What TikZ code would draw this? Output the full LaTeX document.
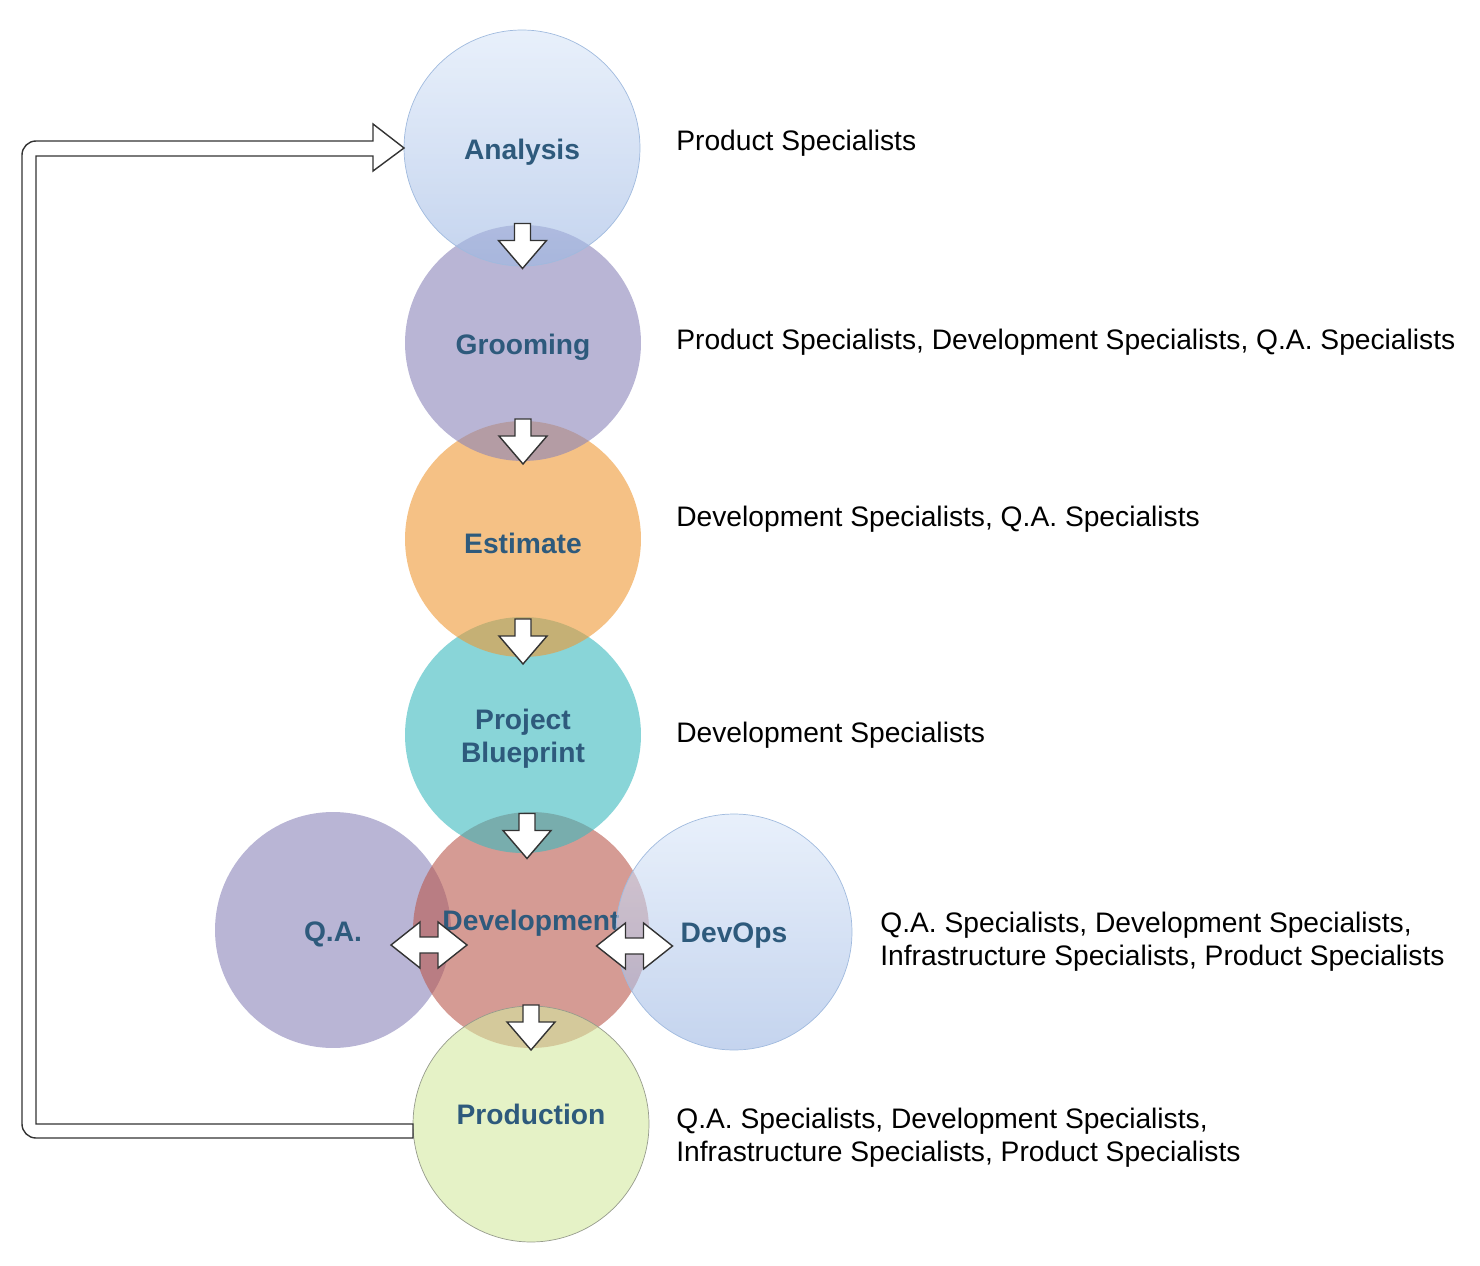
\documentclass[tikz,border=0pt]{standalone}
\usepackage{fontspec}
\setmainfont{Liberation Sans}
\usetikzlibrary{calc,positioning}

\definecolor{labelblue}{RGB}{46,90,124}
\definecolor{anatop}{RGB}{217,230,248}
\definecolor{anabot}{RGB}{157,183,227}
\definecolor{anaedge}{RGB}{160,186,222}
\definecolor{groomfill}{RGB}{138,132,185}
\definecolor{estfill}{RGB}{238,152,52}
\definecolor{bpfill}{RGB}{58,185,190}
\definecolor{devfill}{RGB}{185,88,77}
\definecolor{prodfill}{RGB}{212,233,160}
\definecolor{prodedge}{RGB}{150,155,140}

\newcommand\rolefont{\fontsize{16.05}{18.8}\selectfont}

\begin{document}
\begin{tikzpicture}[x={(0.02cm,0cm)},y={(0cm,-0.02cm)},
  stage/.style={circle, minimum size=4.72cm, inner sep=0pt, outer sep=0pt, fill opacity=0.6, label={[stagetxt, yshift=-0.08cm]center:#1}},
  stagetxt/.style={inner sep=0pt, text=labelblue, font=\rolefont\bfseries, align=center, text opacity=1},
  role/.style={anchor=west, inner sep=0pt, font=\rolefont, align=left},
  hollow/.style={draw=black!80, line width=0.8pt, fill=white, line join=miter},
  downarr/.pic={\draw[hollow] (-8,-22) -- (8,-22) -- (8,-5) -- (24,-5) -- (0,23) -- (-24,-5) -- (-8,-5) -- cycle;},
  twoarr/.pic={\draw[hollow] (-38,0) -- (-9,-23) -- (-9,-8) -- (9,-8) -- (9,-23) -- (38,0) -- (9,23) -- (9,8) -- (-9,8) -- (-9,23) -- cycle;}]
\useasboundingbox (0,0) rectangle (1480,1266);

% stages, bottom ones first
\node[stage=Q.A., fill=groomfill] (qa) at (333,930) {};
\node[stage=, fill=devfill] (dev) at (531,930) {};
\node[stagetxt] (devtxt) at ($(dev)+(0,-7)$) {Development};
\node[stage=, fill=prodfill, draw=prodedge] (prod) at (531,1124) {};
\node[stagetxt] (prodtxt) at ($(prod)+(0,-10)$) {Production};
\node[stage=DevOps, top color=anatop, bottom color=anabot, draw=anaedge] (ops) at (734,932) {};
\node[stage={Project\\Blueprint}, fill=bpfill] (bp) at (523,735) {};
\node[stage=Estimate, fill=estfill] (est) at (523,539) {};
\node[stage=Grooming, fill=groomfill] (gro) at (523,343) {};
\node[stage=Analysis, top color=anatop, bottom color=anabot, draw=anaedge] (ana) at (522,148) {};

% who takes part
\node[role] (anarole) at (676,143) {Product Specialists};
\node[role] (grorole) at (676,342) {Product Specialists, Development Specialists, Q.A. Specialists};
\node[role] (estrole) at (676,519) {Development Specialists, Q.A. Specialists};
\node[role] (bprole) at (676,735) {Development Specialists};
\node[role] (opsrole) at (880,942) {Q.A. Specialists, Development Specialists,\\Infrastructure Specialists, Product Specialists};
\node[role] (prodrole) at (676,1138) {Q.A. Specialists, Development Specialists,\\Infrastructure Specialists, Product Specialists};

% flow arrows
\pic at ($(ana)!.5!(gro)$) {downarr};
\pic at ($(gro)!.5!(est)$) {downarr};
\pic at ($(est)!.5!(bp)+(0,4)$) {downarr};
\pic at ($(bp)!.5!(dev)+(0,3)$) {downarr};
\pic at ($(dev)!.5!(prod)$) {downarr};
\pic at ($(qa)!.5!(dev)+(-3,15)$) {twoarr};
\pic at ($(dev)!.5!(ops)+(2,15)$) {twoarr};

% back to analysis
\coordinate (hb) at ($(ana.west)+(-31,0)$);
\coordinate (lx) at (22,0);
\coordinate (ix) at (36,0);
\draw[hollow] (prod.west) -- (ix |- prod.west) -- ($(ix |- hb)+(0,8)$) -- ($(hb)+(0,8)$) -- ($(hb)+(0,23)$)
  -- (ana.west) -- ($(hb)+(0,-24)$) -- ($(hb)+(0,-7)$) -- ($(ix |- hb)+(0,-7)$)
  arc[start angle=270, end angle=180, radius=14] -- ($(lx |- prod.west)$)
  arc[start angle=180, end angle=90, radius=14] -- ($(prod.west)+(0,14)$) -- cycle;
\end{tikzpicture}
\end{document}
